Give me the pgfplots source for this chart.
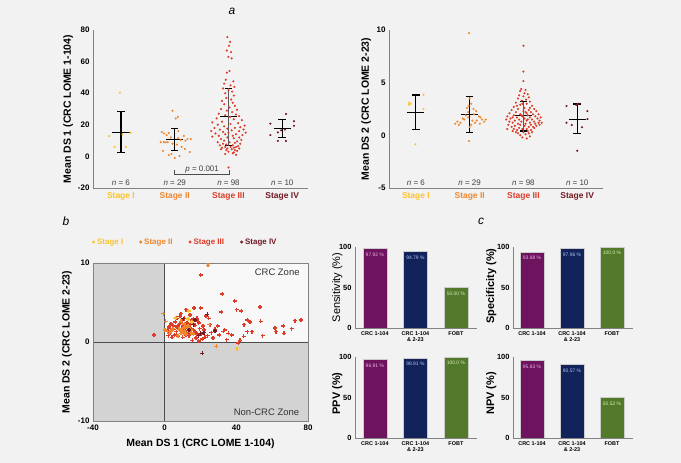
\documentclass[border=0pt]{standalone}
\usepackage{pgfplots}
\pgfplotsset{compat=1.18}
\usepackage{fontspec}
\setmainfont{Liberation Sans}

\definecolor{bgc}{RGB}{242,242,242}
\definecolor{stI}{RGB}{250,195,45}
\definecolor{stII}{RGB}{240,135,45}
\definecolor{stIII}{RGB}{220,60,40}
\definecolor{stIV}{RGB}{115,25,35}
\definecolor{zonegray}{RGB}{211,211,211}
\definecolor{zonewhite}{RGB}{248,248,248}
\definecolor{cpurple}{RGB}{110,20,95}
\definecolor{cnavy}{RGB}{18,35,92}
\definecolor{cgreen}{RGB}{82,122,42}
\definecolor{lpurple}{RGB}{235,175,225}
\definecolor{lnavy}{RGB}{175,195,240}
\definecolor{lgreen}{RGB}{215,235,185}
\definecolor{axgray}{RGB}{130,130,130}

\pgfplotsset{
  base/.style={
    scale only axis, clip=false,
    axis line style={-, draw=axgray, line width=0.8bp},
    major tick length=0pt,
    tick label style={font=\bfseries\fontsize{8}{9}\selectfont},
    /pgf/number format/assume math mode=true,
    label style={font=\bfseries\fontsize{10.5}{12}\selectfont},
  },
  dots/.style={only marks, mark=*, mark size=0.85bp, #1, mark options={draw=none, fill=#1}},
  crosses/.style={only marks, mark=+, mark size=2bp, #1, line width=1.5bp},
  meanbar/.style={black, line width=1.1bp, unbounded coords=jump},
  stagelabels/.style={
    xtick={1,2,3,4},
    xticklabels={\textcolor{stI}{Stage I},\textcolor{stII}{Stage II},\textcolor{stIII}{Stage III},\textcolor{stIV}{Stage IV}},
    xticklabel style={font=\bfseries\fontsize{8.5}{10}\selectfont, yshift=-1.5bp},
  },
  cbar/.style={
    base, height=81bp, axis lines*=left, axis on top,
    ymin=0, ymax=100, ytick={0,50,100},
    yticklabel style={font=\bfseries\fontsize{7.5}{8}\selectfont},
    xtick={0,1,2},
    xticklabels={CRC 1-104,{CRC 1-104\\\& 2-23},FOBT},
    xticklabel style={align=center, font=\bfseries\fontsize{5.5}{6.5}\selectfont},
    ybar, bar width=24bp,
    point meta=explicit symbolic,
    nodes near coords,
    label style={font=\bfseries\fontsize{11}{12}\selectfont},
  },
  vbar/.style={fill=#1, draw=gray!40, line width=0.4bp, bar shift=0pt},
  vlab/.style={every node near coord/.append style={anchor=north, yshift=-1bp, text=#1, font=\fontsize{5}{6}\selectfont}},
}

\begin{document}
\begin{tikzpicture}[x=1bp,y=1bp]
\fill[bgc] (0,0) rectangle (681,463);

\node[font=\itshape\fontsize{12}{14}\selectfont] at (232bp,452bp) {a};
\node[font=\itshape\fontsize{12}{14}\selectfont] at (66bp,242bp) {b};
\node[font=\itshape\fontsize{12}{14}\selectfont] at (481bp,242bp) {c};

% ---------- a, left: DS 1
\begin{axis}[base, stagelabels, at={(93bp,275bp)}, anchor=south west,
  width=215bp, height=158bp, axis lines*=left,
  xmin=0.48, xmax=4.48, ymin=-20, ymax=80, ytick={-20,0,20,40,60,80},
  ylabel={Mean DS 1 (CRC LOME 1-104)},
  ylabel style={at={(axis description cs:-0.116,0.5)}, anchor=center}]
\addplot[dots=stI] table {
x y
0.98 40.3
0.78 12.9
1.18 15.0
0.88 6.0
1.09 6.0
1.03 14.0
};
\addplot[dots=stII] table {
x y
1.96 28.9
2.06 25.0
2.02 24.0
1.76 15.4
1.80 14.5
1.85 13.5
1.89 14.8
2.07 16.0
2.17 13.0
2.24 11.0
2.20 10.0
1.74 9.0
1.80 9.0
1.83 9.0
1.87 9.0
2.06 11.5
2.11 10.5
2.30 11.0
1.96 8.0
1.93 12.0
2.28 2.8
2.19 4.7
1.89 0.9
1.94 1.5
2.00 -1.0
2.09 0.2
2.13 6.0
1.78 3.5
2.04 7.5
};
\addplot[dots=stIII] table {
x y
2.98 75.5
3.03 72.5
3.01 70
2.97 67
3.05 66
3.00 63
3.06 62
3.02 54
2.97 53
2.95 48.5
3.09 47.5
2.92 46
3.04 45
3.11 44
2.90 43
3.00 42
3.07 41
2.94 40
3.10 38.5
2.96 37
3.05 36
2.88 35
3.08 34
2.92 33
3.12 32
3.02 31
2.86 30
3.16 29.5
2.97 29
3.07 28
2.82 27
3.14 26.5
2.94 26
3.20 25.5
3.03 25
2.78 24
3.10 23.5
3.25 23
2.88 22
2.70 21.5
3.18 21
3.04 20.5
2.80 20
3.30 19.5
2.92 19
3.22 18.5
2.74 18
3.12 18
2.98 17.5
3.28 17
2.84 17
3.06 16.5
2.68 16
3.20 16
2.90 15.5
3.32 15
3.00 15
2.76 14.5
3.14 14
2.94 14
3.26 13.5
2.82 13
3.08 13
2.70 12.5
3.20 12
2.98 12
3.10 11.5
2.86 11
3.24 10.5
2.92 10
3.16 9.5
2.80 9
3.02 9
3.12 8.5
2.90 8
3.22 8
2.96 7.5
3.08 7
2.84 7
3.18 6.5
2.94 6
3.04 6
3.14 6
2.88 5.5
3.10 5.5
2.98 5
3.20 5
3.06 4.5
2.86 4.5
3.12 4
2.96 4
3.16 3.5
3.00 3
3.10 2.5
3.08 2
2.94 1.5
3.14 1
3.00 -7
};
\addplot[dots=stIV] table {
x y
4.07 26.8
3.78 20.7
4.22 22.2
4.22 19.4
3.92 15.2
3.78 13.5
4.05 17.0
3.92 9.8
4.07 9.8
3.98 16.5
};
\addplot[meanbar] coordinates {
(0.84,15.4) (1.16,15.4) (nan,nan) (1,2.6) (1,28.3) (nan,nan)
(0.93,28.3) (1.07,28.3) (nan,nan) (0.93,2.6) (1.07,2.6) (nan,nan)
(1.84,10.8) (2.16,10.8) (nan,nan) (2,3.6) (2,17.8) (nan,nan)
(1.93,17.8) (2.07,17.8) (nan,nan) (1.93,3.6) (2.07,3.6) (nan,nan)
(2.84,25.1) (3.16,25.1) (nan,nan)
(2.93,43.1) (3.07,43.1) (nan,nan) (2.93,6.8) (3.07,6.8) (nan,nan)
(3.84,17.8) (4.16,17.8) (nan,nan) (4,12.1) (4,23.5) (nan,nan)
(3.93,23.5) (4.07,23.5) (nan,nan) (3.93,12.1) (4.07,12.1)
};
\addplot[black!65, line width=1.1bp] coordinates {(3,6.8) (3,43.1)};
\addplot[black!70, line width=0.7bp] coordinates {(2,-8.6) (2,-11.2) (3.02,-11.2) (3.02,-8.6)};
\node[anchor=south, inner sep=1pt, font=\fontsize{8}{9}\selectfont, text=black!75] at (axis cs:2.51,-11.2) {\textit{p} = 0.001};
\node[font=\fontsize{8}{9}\selectfont, text=black!75] at (axis cs:1,-16.8) {\textit{n} = 6};
\node[font=\fontsize{8}{9}\selectfont, text=black!75] at (axis cs:2,-16.8) {\textit{n} = 29};
\node[font=\fontsize{8}{9}\selectfont, text=black!75] at (axis cs:3,-16.8) {\textit{n} = 98};
\node[font=\fontsize{8}{9}\selectfont, text=black!75] at (axis cs:4,-16.8) {\textit{n} = 10};
\end{axis}

% ---------- a, right: DS 2
\begin{axis}[base, stagelabels, at={(389bp,275bp)}, anchor=south west,
  width=214bp, height=158bp, axis lines*=left,
  xmin=0.5, xmax=4.48, ymin=-5, ymax=10, ytick={-5,0,5,10},
  ylabel={Mean DS 2 (CRC LOME 2-23)},
  ylabel style={at={(axis description cs:-0.107,0.5)}, anchor=center}]
\addplot[dots=stI] table {
x y
0.87 3.1
0.87 2.9
1.14 3.85
1.14 2.5
0.99 -0.85
0.90 3.0
};
\addplot[dots=stII] table {
x y
1.99 9.7
1.99 -0.55
2.00 3.5
2.03 3.0
1.98 2.8
2.07 2.5
1.97 2.2
2.08 2.0
2.17 1.8
2.20 1.7
2.23 1.5
2.13 1.4
1.77 1.3
1.83 1.2
1.73 1.1
1.80 1.0
1.90 1.5
1.87 1.6
1.93 1.9
2.10 1.2
2.19 1.1
2.03 1.0
2.27 1.3
2.12 2.3
2.00 0.8
1.97 1.7
2.05 1.4
1.95 2.6
2.30 1.5
};
\addplot[dots=stIII] table {
x y
3.00 8.5
3.00 6.05
3.00 5.15
2.96 4.4
3.04 4.3
2.94 4.2
3.02 4.0
3.08 3.9
2.92 3.8
3.00 3.7
3.10 3.6
2.90 3.5
3.05 3.4
2.97 3.3
3.12 3.2
2.86 3.1
3.06 3.0
2.94 2.9
3.16 2.8
2.82 2.7
3.02 2.6
3.20 2.5
2.90 2.5
3.10 2.4
2.78 2.4
3.24 2.3
3.00 2.3
2.86 2.2
3.14 2.2
2.74 2.1
3.06 2.1
3.28 2.0
2.94 2.0
3.18 2.0
2.82 1.9
3.08 1.9
2.70 1.8
3.22 1.8
2.98 1.8
3.32 1.7
2.88 1.7
3.12 1.7
2.76 1.6
3.02 1.6
3.26 1.6
2.68 1.5
2.92 1.5
3.16 1.5
3.30 1.4
2.84 1.4
3.06 1.4
2.74 1.3
3.20 1.3
2.96 1.3
3.12 1.2
2.80 1.2
3.28 1.2
2.90 1.1
3.04 1.1
3.22 1.1
2.72 1.0
3.14 1.0
2.94 1.0
3.24 0.9
2.84 0.9
3.02 0.9
2.78 0.8
3.10 0.8
3.18 0.8
2.92 0.7
3.20 0.7
2.82 0.6
3.06 0.6
2.98 0.6
3.14 0.5
2.88 0.5
3.08 0.4
2.80 0.4
3.00 0.3
3.16 0.3
2.90 0.2
3.10 0.2
3.04 0.1
2.94 0.0
3.12 -0.1
2.98 -0.2
3.06 -0.3
3.08 1.5
2.96 1.9
3.12 2.6
2.98 3.0
3.30 1.0
3.34 1.2
2.70 0.6
2.88 2.8
2.86 0.3
3.04 2.2
2.80 1.7
};
\addplot[dots=stIV] table {
x y
3.80 2.78
4.00 2.95
4.03 3.0
4.19 2.3
4.19 1.55
3.80 1.2
3.90 0.98
4.09 0.76
4.00 -1.46
3.98 2.9
};
\addplot[meanbar] coordinates {
(0.84,2.18) (1.16,2.18) (nan,nan) (1,0.57) (1,3.83) (nan,nan)
(0.93,3.83) (1.07,3.83) (nan,nan) (0.93,0.57) (1.07,0.57) (nan,nan)
(1.84,2.0) (2.16,2.0) (nan,nan) (2,0.28) (2,3.67) (nan,nan)
(1.93,3.67) (2.07,3.67) (nan,nan) (1.93,0.28) (2.07,0.28) (nan,nan)
(2.84,1.86) (3.16,1.86) (nan,nan)
(2.93,3.19) (3.07,3.19) (nan,nan) (2.93,0.41) (3.07,0.41) (nan,nan)
(3.84,1.52) (4.16,1.52) (nan,nan) (4,0.19) (4,2.97) (nan,nan)
(3.93,2.97) (4.07,2.97) (nan,nan) (3.93,0.19) (4.07,0.19)
};
\addplot[black!65, line width=1.1bp] coordinates {(3,0.41) (3,3.19)};
\node[font=\fontsize{8}{9}\selectfont, text=black!75] at (axis cs:1,-4.53) {\textit{n} = 6};
\node[font=\fontsize{8}{9}\selectfont, text=black!75] at (axis cs:2,-4.53) {\textit{n} = 29};
\node[font=\fontsize{8}{9}\selectfont, text=black!75] at (axis cs:3,-4.53) {\textit{n} = 98};
\node[font=\fontsize{8}{9}\selectfont, text=black!75] at (axis cs:4,-4.53) {\textit{n} = 10};
\end{axis}

% ---------- b: DS 1 vs DS 2
\begin{axis}[base, at={(93bp,42bp)}, anchor=south west,
  width=215bp, height=158bp, axis on top,
  axis background/.style={fill=zonewhite},
  xmin=-40, xmax=80, ymin=-10, ymax=10,
  xtick={-40,0,40,80}, ytick={-10,0,10},
  xlabel={Mean DS 1 (CRC LOME 1-104)},
  ylabel={Mean DS 2 (CRC LOME 2-23)},
  xlabel style={at={(axis description cs:0.5,-0.146)}, anchor=center},
  ylabel style={at={(axis description cs:-0.121,0.5)}, anchor=center},
  legend style={at={(axis description cs:-0.005,1.133)}, anchor=west,
    draw=none, fill=none, legend columns=4, inner sep=0pt,
    font=\bfseries\fontsize{8}{9}\selectfont,
    /tikz/every even column/.append style={column sep=14bp}},
  legend cell align=left]
\addlegendimage{legend image code/.code={\fill[stI] (2bp,0bp) circle (1.3bp);}}
\addlegendentry{\textcolor{stI}{Stage I}}
\addlegendimage{legend image code/.code={\fill[stII] (2bp,0bp) circle (1.3bp);}}
\addlegendentry{\textcolor{stII}{Stage II}}
\addlegendimage{legend image code/.code={\fill[stIII] (2bp,0bp) circle (1.3bp);}}
\addlegendentry{\textcolor{stIII}{Stage III}}
\addlegendimage{legend image code/.code={\fill[stIV] (2bp,0bp) circle (1.3bp);}}
\addlegendentry{\textcolor{stIV}{Stage IV}}
\addplot[fill=zonegray, draw=none, forget plot] coordinates {
(-40,-10) (-40,10) (0,10) (0,0) (80,0) (80,-10)} -- cycle;
\addplot[black!70, line width=0.9bp, forget plot] coordinates {(0,-10) (0,10)};
\addplot[black!70, line width=0.9bp, forget plot] coordinates {(-40,0) (80,0)};
\addplot[crosses=stIII, forget plot] table {
x y
76 2.8
72.6 2.7
70.8 1.7
66.7 1.1
66.3 2.0
62 1.3
61.6 1.8
54.6 0.8
53.6 2.6
53.3 4.4
48.8 1.3
47.7 2.5
46.2 2.8
46.2 1.3
44.3 2.2
44 0.7
42.8 3.9
42.1 0.2
41.2 -0.1
40.2 4.1
39.1 5.2
37.4 0.9
35.5 1.1
34.6 0.3
33.5 1.5
32.8 1.35
32.2 6.1
31.7 3.8
30.5 0.9
29.5 2.0
28 1.6
27 0.5
26 1.2
25.5 2.2
24.5 3.0
23.8 3.5
23 3.3
22.5 0.6
21.5 2.0
21 0.4
20.1 8.5
20.1 4.3
19.5 1.7
19 0.1
18.5 2.6
18 1.0
17.5 0.5
17 2.1
16.4 4.3
16 1.5
15.5 0.2
15 2.8
14.5 1.2
14 3.4
13.5 0.8
13 1.8
12.5 2.4
12 4.1
12 0.9
11.5 1.4
11 3.0
10.5 2.0
10 0.6
10 2.7
9.5 1.6
9 3.6
9 1.1
8.6 3.25
8 2.2
7.5 0.7
7 1.9
7 3.0
6.5 1.3
6 2.5
5.5 0.9
5 2.0
5 1.6
4.3 1.7
4 0.6
3.5 2.3
3 1.2
2.5 1.9
2 0.8
1.5 1.5
-6 0.9
18 3.0
14 2.2
16 2.9
13 1.0
11 1.3
15 1.7
17 1.3
19 2.4
20.5 1.0
12 2.0
22 1.5
9 2.5
24 0.8
};
\addplot[crosses=stII, forget plot] table {
x y
28.9 -0.55
24.2 9.7
25 2.2
15.4 2.5
14.5 1.5
13.5 1.8
14.8 1.2
16 1.0
13 2.0
11 1.4
10 1.7
9 1.1
9 1.3
9 2.6
9 1.5
11.5 1.9
10.5 1.2
11 2.3
8 1.6
12 1.0
2.8 1.1
4.7 1.7
0.6 2.6
1.5 1.3
-0.7 3.6
0.2 1.5
6 3.0
3.5 1.4
7.5 0.8
};
\addplot[crosses=stI, forget plot] table {
x y
40.5 -0.85
6.1 3.1
13.3 3.9
15 2.5
12.9 2.9
6 3.0
};
\addplot[crosses=stIV, forget plot] table {
x y
10.4 2.95
23.8 3.5
16 2.2
20 1.1
19 0.8
28 1.4
21 -1.45
13.5 1.5
17 2.8
22 1.2
};
\node[anchor=east, font=\fontsize{9.5}{11}\selectfont, text=black!80] at (rel axis cs:0.977,0.943) {CRC Zone};
\node[anchor=east, font=\fontsize{9.5}{11}\selectfont, text=black!80] at (rel axis cs:0.975,0.057) {Non-CRC Zone};
\end{axis}

% ---------- c: four bar panels
\begin{axis}[cbar, at={(355bp,135bp)}, anchor=south west, width=122bp,
  xmin=-0.49, xmax=2.52,
  ylabel={\mdseries Sensitivity (\%)},
  ylabel style={at={(axis description cs:-0.145,0.5)}, anchor=center}]
\addplot[vbar=cpurple, vlab=lpurple] coordinates {(0,97.92) [97.92 \%]};
\addplot[vbar=cnavy, vlab=lnavy] coordinates {(1,94.79) [94.79 \%]};
\addplot[vbar=cgreen, vlab=lgreen] coordinates {(2,50.00) [50.00 \%]};
\end{axis}

\begin{axis}[cbar, at={(513bp,135bp)}, anchor=south west, width=120bp,
  xmin=-0.475, xmax=2.525,
  ylabel={Specificity (\%)},
  ylabel style={at={(axis description cs:-0.18,0.52)}, anchor=center}]
\addplot[vbar=cpurple, vlab=lpurple] coordinates {(0,93.88) [93.88 \%]};
\addplot[vbar=cnavy, vlab=lnavy] coordinates {(1,97.96) [97.96 \%]};
\addplot[vbar=cgreen, vlab=lgreen] coordinates {(2,100.0) [100.0 \%]};
\end{axis}

\begin{axis}[cbar, at={(355bp,25bp)}, anchor=south west, width=122bp,
  xmin=-0.49, xmax=2.52,
  ylabel={PPV (\%)},
  ylabel style={at={(axis description cs:-0.145,0.55)}, anchor=center}]
\addplot[vbar=cpurple, vlab=lpurple] coordinates {(0,96.91) [96.91 \%]};
\addplot[vbar=cnavy, vlab=lnavy] coordinates {(1,98.91) [98.91 \%]};
\addplot[vbar=cgreen, vlab=lgreen] coordinates {(2,100.0) [100.0 \%]};
\end{axis}

\begin{axis}[cbar, at={(513bp,25bp)}, anchor=south west, width=120bp,
  xmin=-0.475, xmax=2.525,
  ylabel={NPV (\%)},
  ylabel style={at={(axis description cs:-0.18,0.55)}, anchor=center}]
\addplot[vbar=cpurple, vlab=lpurple] coordinates {(0,95.83) [95.83 \%]};
\addplot[vbar=cnavy, vlab=lnavy] coordinates {(1,90.57) [90.57 \%]};
\addplot[vbar=cgreen, vlab=lgreen] coordinates {(2,50.52) [50.52 \%]};
\end{axis}
\end{tikzpicture}
\end{document}
